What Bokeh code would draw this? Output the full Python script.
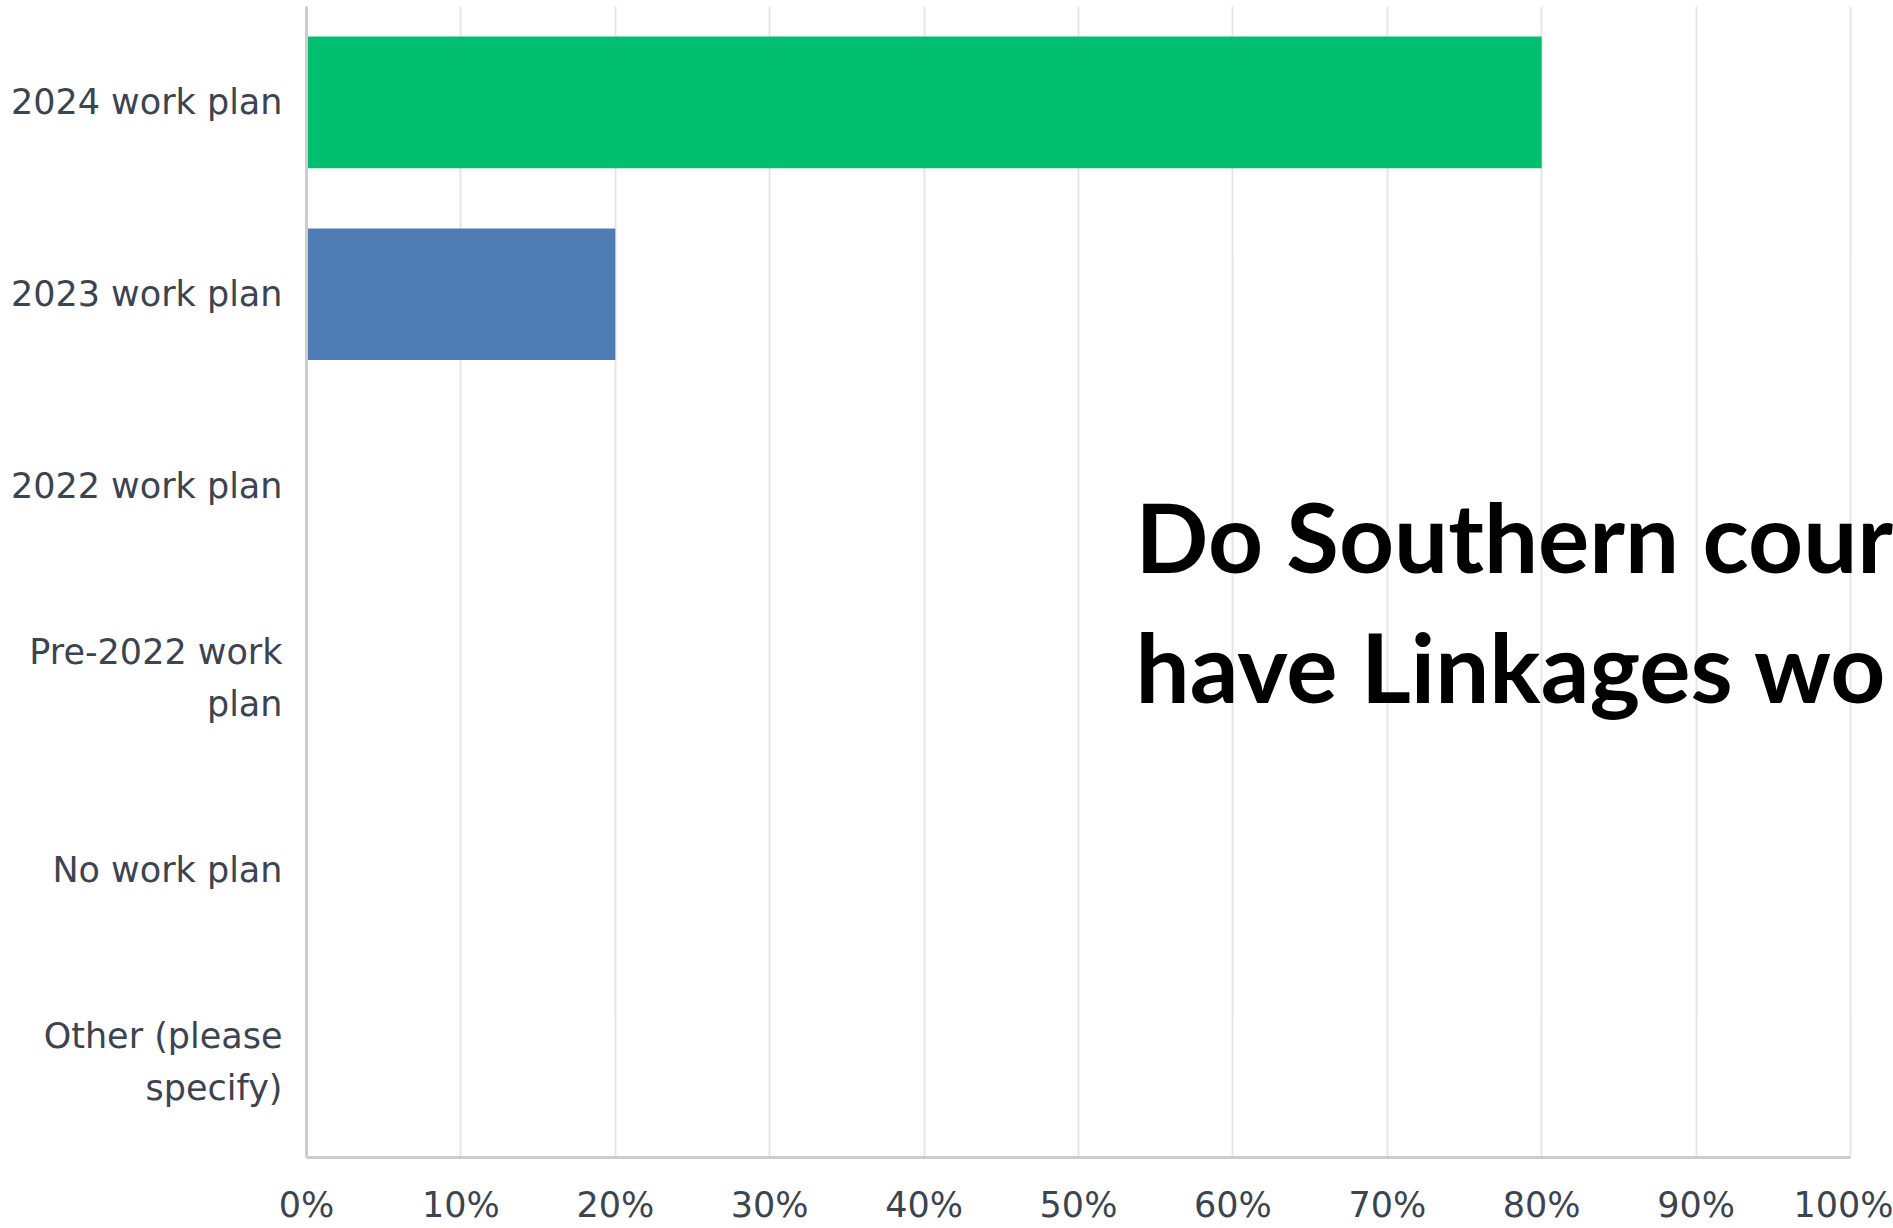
from bokeh.plotting import figure
from bokeh.models import FactorRange, NumeralTickFormatter, Label, FixedTicker
from bokeh.embed import file_html
from bokeh.resources import INLINE

categories = ["2024 work plan", "2023 work plan", "2022 work plan",
              "Pre-2022 work\nplan", "No work plan", "Other (please\nspecify)"]
values = [0.80, 0.20, 0.0, 0.0, 0.0, 0.0]
colors = ["#00BF6F", "#507CB5", "#6BC8CD", "#F9BE00", "#9D5CE5", "#D25F90"]
x_ticks = [0, 0.1, 0.2, 0.3, 0.4, 0.5, 0.6, 0.7, 0.8, 0.9, 1.0]
title_lines = ["Do Southern cour", "have Linkages wo"]

p = figure(width=1893, height=1228, output_backend="svg", toolbar_location=None,
           y_range=FactorRange(*reversed(categories)), x_range=(0, 1.02785),
           min_border_left=306, min_border_right=0, min_border_top=6, min_border_bottom=71)

p.hbar(y=categories, right=values, left=0, height=0.686, color=colors, line_color=None)

p.outline_line_color = None
p.background_fill_color = "white"
p.border_fill_color = "white"

p.ygrid.grid_line_color = None
p.xgrid.grid_line_color = "#e6e6e6"
p.xgrid.grid_line_width = 2
p.xaxis.ticker = FixedTicker(ticks=x_ticks)
p.xaxis.formatter = NumeralTickFormatter(format="0%")
p.xaxis.bounds = (0, 1.0)

for ax in (p.xaxis[0], p.yaxis[0]):
    ax.axis_line_color = "#cccccc"
    ax.axis_line_width = 3
    ax.major_tick_line_color = None
    ax.minor_tick_line_color = None
    ax.major_tick_out = 0
    ax.major_tick_in = 0
    ax.major_label_text_font = "DejaVu Sans"
    ax.major_label_text_font_size = "35px"
    ax.major_label_text_color = "#3b4450"

p.yaxis.major_label_standoff = 24
p.yaxis.major_label_text_line_height = 1.3
p.xaxis.major_label_standoff = 27

y0 = 622
for i, line in enumerate(title_lines):
    p.add_layout(Label(x=829, y=y0 - 130 * i, x_units="screen", y_units="screen",
                       text=line, text_font="Lato", text_font_style="bold",
                       text_font_size="96px", text_color="black",
                       text_baseline="alphabetic"))

open("out.html", "w").write(file_html(p, INLINE))
